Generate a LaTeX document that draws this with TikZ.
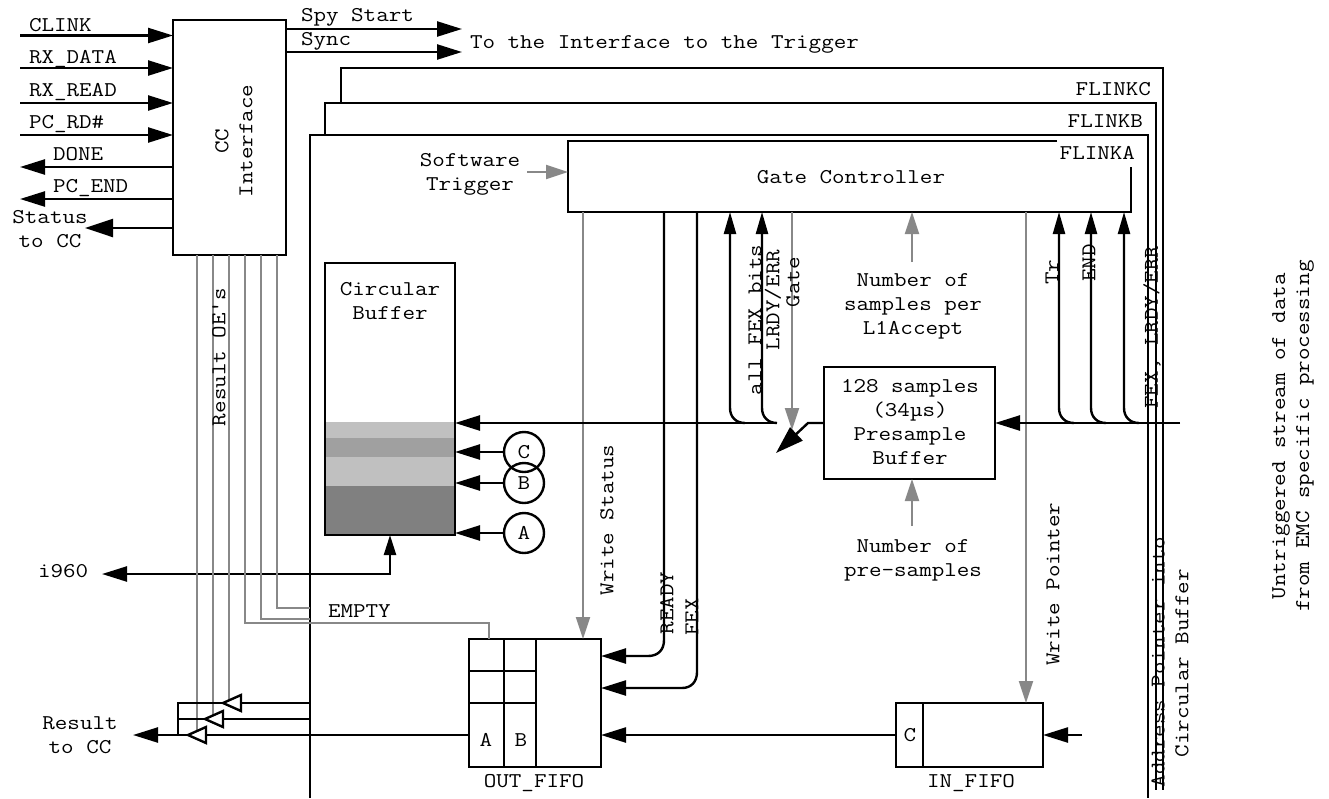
\documentclass[tikz,border=0pt]{standalone}
\usepackage{fontspec}
\setmonofont{Latin Modern Mono}[FakeStretch=1.16]
\usetikzlibrary{arrows.meta}
\definecolor{sg}{RGB}{136,136,136}
\definecolor{bandL}{RGB}{192,192,192}
\definecolor{bandM}{RGB}{160,160,160}
\definecolor{bandD}{RGB}{128,128,128}
\begin{document}
\begin{tikzpicture}[x=1pt,y=-1pt,
  every node/.style={font=\ttfamily\fontsize{21}{24}\selectfont, inner sep=0pt, outer sep=0pt},
  ln/.style={line width=2.4pt, line join=miter},
  gl/.style={line width=2pt, draw=sg},
  boxnode/.style={draw, line width=2.6pt, rectangle, inner sep=0pt, outer sep=0pt},
  arr/.style={-{Triangle[length=25pt,width=15pt]}},
  uparr/.style={-{Triangle[length=22pt,width=12pt]}},
  garr/.style={-{Triangle[length=22pt,width=14pt]}},
  vtext/.style={rotate=90},
  tri/.style={line width=2.4pt, line join=miter},
  circnode/.style={draw, circle, line width=2.4pt, minimum size=40pt},
]
\useasboundingbox (0,0) rectangle (1329,798);

% ---------- boxes ----------
\node[boxnode, minimum width=113pt, minimum height=235pt] (cc) at (229.5,137.5) {};
\node[vtext, align=center] (cctxt) at (234,141) {CC\\Interface};

\node[minimum width=563pt, minimum height=71pt] (gate) at (849.5,176.5) {};
\coordinate (gtopend) at (1057,141);
\coordinate (grightend) at (1131,167);
\draw[ln] (gtopend) -- (gate.north west) -- (gate.south west) -- (gate.south east) -- (grightend);
\node[anchor=base] (gatetxt) at (851,183) {Gate Controller};

\fill[bandL] (325,422) rectangle (455,438);
\fill[bandM] (325,438) rectangle (455,457);
\fill[bandL] (325,457) rectangle (455,486);
\fill[bandD] (325,486) rectangle (455,535);
\node[boxnode, minimum width=130pt, minimum height=272pt] (circ) at (390,399) {};
\node[align=center] (circtxt) at (390,301) {Circular\\Buffer};

\node[boxnode, minimum width=171pt, minimum height=112pt] (pre) at (909.5,423) {};
\node[align=center] (pretxt) at (910,422) {128 samples\\(34µs)\\Presample\\Buffer};

\node[boxnode, minimum width=132pt, minimum height=128pt] (outf) at (535,703) {};
\draw[ln] (504,639) -- (504,767);
\draw[ln] (536,639) -- (536,767);
\draw[ln] (469,671) -- (536,671);
\draw[ln] (469,703) -- (536,703);
\node (cellA) at (486,740) {A};
\node (cellB) at (521,740) {B};
\node[anchor=base] (outftxt) at (534,787) {OUT\_FIFO};

\node[boxnode, minimum width=147pt, minimum height=64pt] (inf) at (969.5,735) {};
\draw[ln] (923,703) -- (923,767);
\node (cellC) at (910,735) {C};
\node[anchor=base] (inftxt) at (971,787) {IN\_FIFO};

\node[circnode] (cB) at (524,483) {B};
\node[circnode] (cC) at (524,452) {C};
\node[circnode] (cA) at (524,533) {A};

% ---------- CC interface signals ----------
\coordinate (iCLINK) at (20,35.5);
\coordinate (iRXD) at (20,68);
\coordinate (iRXR) at (20,103);
\coordinate (iPCRD) at (20,135);
\coordinate (oDONE) at (20,167);
\coordinate (oPCEND) at (20,199);
\coordinate (oSTAT) at (85,228);
\draw[ln,arr] (iCLINK) -- (iCLINK -| cc.west);
\draw[ln,arr] (iRXD) -- (iRXD -| cc.west);
\draw[ln,arr] (iRXR) -- (iRXR -| cc.west);
\draw[ln,arr] (iPCRD) -- (iPCRD -| cc.west);
\draw[ln,arr] (oDONE -| cc.west) -- (oDONE);
\draw[ln,arr] (oPCEND -| cc.west) -- (oPCEND);
\draw[ln,-{Triangle[length=28pt,width=18pt]}] (oSTAT -| cc.west) -- (oSTAT);
\node[anchor=base west] (lCLINK) at (29,31) {CLINK};
\node[anchor=base west] (lRXD) at (29,63) {RX\_DATA};
\node[anchor=base west] (lRXR) at (29,96) {RX\_READ};
\node[anchor=base west] (lPCRD) at (29,128) {PC\_RD\#};
\node[anchor=base west] (lDONE) at (53,160) {DONE};
\node[anchor=base west] (lPCEND) at (53,192) {PC\_END};
\node[align=center] (lSTAT) at (50,229) {Status\\to CC};

\coordinate (spyE) at (462,29);
\coordinate (syncE) at (462,52);
\draw[ln,arr] (spyE -| cc.east) -- (spyE);
\draw[ln,arr] (syncE -| cc.east) -- (syncE);
\node[anchor=base west] (lspy) at (301,21) {Spy Start};
\node[anchor=base west] (lsync) at (301,45) {Sync};
\node[anchor=base west] (ltrig) at (470,48) {To the Interface to the Trigger};

% ---------- FLINK frames ----------
\draw[ln] (310,798) -- (310,135) -- (1148,135) -- (1148,798);
\draw[ln] (325,135) -- (325,103) -- (1156,103) -- (1156,790);
\draw[ln] (341,103) -- (341,68) -- (1163,68) -- (1163,790);
\node[anchor=base east] (lFC) at (1151,95) {FLINKC};
\node[anchor=base east] (lFB) at (1143,127) {FLINKB};
\node[anchor=base east] (lFA) at (1135,159) {FLINKA};

% ---------- software trigger ----------
\node[align=center] (sw) at (470,174) {Software\\Trigger};
\coordinate (swS) at (527,172);
\draw[gl,garr] (swS) -- (swS -| gate.west);

% ---------- lines from gate controller ----------
\coordinate (xWS) at (583,0);
\coordinate (xRDY) at (664,0);
\coordinate (xFEX) at (697,0);
\coordinate (xALL) at (730,0);
\coordinate (xLR) at (762,0);
\coordinate (xGATE) at (792,0);
\coordinate (xNS) at (912,0);
\coordinate (xWP) at (1026,0);
\coordinate (xTR) at (1059,0);
\coordinate (xEND) at (1091,0);
\coordinate (xFL) at (1124,0);

\draw[gl,garr] (xWS |- gate.south) -- (xWS |- outf.north);
\draw[ln,arr] (xRDY |- gate.south) -- (664,640) .. controls (664,650) and (658,656) .. (648,656) -- (outf.east |- 0,656);
\draw[ln,arr] (xFEX |- gate.south) -- (697,672) .. controls (697,682) and (691,688) .. (682,688) -- (outf.east |- 0,688);
\draw[ln,uparr] (745,423) .. controls (736,423) and (730,417) .. (730,408) -- (xALL |- gate.south);
\draw[ln,uparr] (777,423) .. controls (768,423) and (762,417) .. (762,408) -- (xLR |- gate.south);
\draw[gl,garr] (xGATE |- gate.south) -- (792,430);
\coordinate (nsS) at (912,262);
\draw[gl,garr] (nsS) -- (xNS |- gate.south);
\coordinate (npS) at (912,526);
\draw[gl,garr] (npS) -- (xNS |- pre.south);
\draw[gl,garr] (xWP |- gate.south) -- (xWP |- inf.north);
\draw[ln,uparr] (1074,423) .. controls (1065,423) and (1059,417) .. (1059,408) -- (xTR |- gate.south);
\draw[ln,uparr] (1106,423) .. controls (1097,423) and (1091,417) .. (1091,408) -- (xEND |- gate.south);
\draw[ln,uparr] (1139,423) .. controls (1130,423) and (1124,417) .. (1124,408) -- (xFL |- gate.south);

% ---------- data path ----------
\coordinate (dataIn) at (1180,423);
\draw[ln,arr] (dataIn) -- (pre.east);
\coordinate (swk) at (808,423);
\coordinate (swtip) at (776,453);
\draw[ln,-{Triangle[length=28pt,width=18pt]}] (pre.west) -- (swk) -- (swtip);
\coordinate (cbIn) at (777,423);
\draw[ln,arr] (cbIn) -- (circ.east |- pre.west);
\draw[ln,arr] (cC.west) -- (cC.west -| circ.east);
\draw[ln,arr] (cB.west) -- (cB.west -| circ.east);
\draw[ln,arr] (cA.west) -- (cA.west -| circ.east);

\coordinate (i960) at (102,574);
\draw[ln,{Triangle[length=25pt,width=15pt]}-{Triangle[length=20pt,width=12pt]}] (i960) -| (circ.south);
\node[anchor=base west] (li960) at (38,577) {i960};

\coordinate (infIn) at (1082,735);
\draw[ln,arr] (infIn) -- (inf.east);
\draw[ln,arr] (inf.west) -- (outf.east |- inf.west);

% ---------- result OE's ----------
\coordinate (t1tip) at (223,703);
\coordinate (t2tip) at (205,719);
\coordinate (t3tip) at (188,735);
\draw[gl] (cc.south -| 277,0) |- (310,608);
\draw[gl] (cc.south -| 261,0) |- (310,619);
\draw[gl] (cc.south -| 245,0) |- (489,623) -- (outf.north -| 489,0);
\draw[gl] (cc.south -| 229,0) -- (229,700.3);
\draw[gl] (cc.south -| 213,0) -- (213,715.4);
\draw[gl] (cc.south -| 197,0) -- (197,731);
\draw[tri] (t1tip) -- ++(18,-8) -- ++(0,16) -- cycle;
\draw[tri] (t2tip) -- ++(18,-8) -- ++(0,16) -- cycle;
\draw[tri] (t3tip) -- ++(18,-8) -- ++(0,16) -- cycle;
\draw[ln] (241,703) -- (310,703);
\draw[ln] (223,719) -- (310,719);
\draw[ln] (outf.west |- t3tip) -- (206,735);
\draw[ln] (t1tip) -- (178,703) -- (178,735) -- (t3tip);
\draw[ln] (t2tip) -- (178,719);
\coordinate (resTip) at (133,735);
\draw[ln,arr] (178,735) -- (resTip);
\node[align=center] (lres) at (80,735) {Result\\to CC};
\node[vtext] (loe) at (219,357) {Result OE's};
\node[anchor=base west] (lempty) at (328,617) {EMPTY};

% ---------- vertical labels ----------
\node[vtext] at (755,320) {all FEX bits};
\node[vtext] at (773,300) {LRDY/ERR};
\node[vtext] at (793,282) {Gate};
\node[vtext] at (1052,272) {Tr};
\node[vtext] at (1089,263) {END};
\node[vtext] at (1152,327) {FEX, LRDY/ERR};
\node[vtext] at (607,520) {Write Status};
\node[vtext] at (667,603) {READY};
\node[vtext] at (692,617) {FEX};
\node[vtext] at (1053,584) {Write Pointer};
\node[vtext] at (1158,662) {Address Pointer into};
\node[vtext] at (1182,663) {Circular Buffer};
\node[vtext, align=center] at (1293,436) {Untriggered stream of data\\from EMC specific processing};
\node[align=center] (lns) at (913,306) {Number of\\samples per\\L1Accept};
\node[align=center] (lnp) at (913,560) {Number of\\pre-samples};
\end{tikzpicture}
\end{document}
